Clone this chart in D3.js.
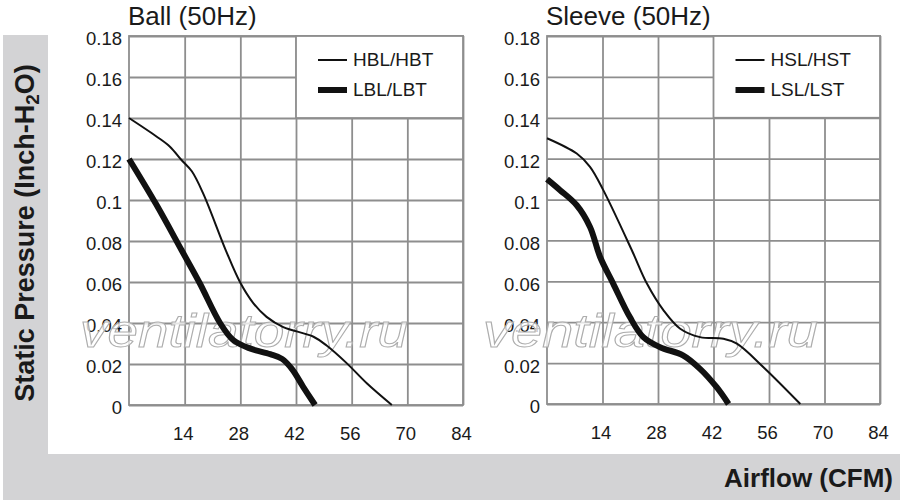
<!DOCTYPE html>
<html>
<head>
<meta charset="utf-8">
<script src="https://cdn.jsdelivr.net/npm/d3@7"></script>
<style>
  body { margin: 0; background: #fff; }
  svg { display: block; font-family: "Liberation Sans", Arial, sans-serif; }
</style>
</head>
<body>
<svg id="chart" width="900" height="502"></svg>
<script>
// tick values
var xTicks = [14, 28, 42, 56, 70, 84];
var yTicks = [0, 0.02, 0.04, 0.06, 0.08, 0.1, 0.12, 0.14, 0.16, 0.18];

// Ball (50Hz) curves, [airflow CFM, pressure inch-H2O]
var hblHbt = [[0, 0.14], [6.9, 0.131], [10.3, 0.126], [13.2, 0.1195], [15.8, 0.114], [18.7, 0.103],
  [24.4, 0.0752], [27.9, 0.06], [31.3, 0.0496], [34.6, 0.043], [38.8, 0.038], [46.4, 0.0333],
  [49.7, 0.029], [54.8, 0.0203], [59.8, 0.0106], [66.1, 0]];
var lblLbt = [[0, 0.12], [6.8, 0.098], [13.2, 0.0756], [17.8, 0.0594], [22.9, 0.04], [26.2, 0.0317],
  [30.4, 0.0276], [35.5, 0.0248], [38.5, 0.0225], [41, 0.0175], [43.8, 0.0089], [46.8, 0]];

// Sleeve (50Hz) curves
var hslHst = [[0, 0.13], [7.5, 0.1225], [10.85, 0.116], [14.2, 0.1046], [21.4, 0.0752], [25.2, 0.0589],
  [29.4, 0.0458], [33.6, 0.0368], [38.6, 0.0327], [44.5, 0.0319], [47.9, 0.0295], [54.6, 0.018],
  [63.9, 0]];
var lslLst = [[0, 0.11], [3.3, 0.1046], [7.5, 0.0972], [10.85, 0.0866], [13.4, 0.0719], [16.7, 0.0589],
  [20.9, 0.0425], [24.3, 0.0327], [28.5, 0.0278], [34.3, 0.0238], [38.6, 0.0172], [42.8, 0.0082],
  [45.8, 0]];

var panels = [
  {title: "Ball (50Hz)", left: 129, right: 463, top: 36, bottom: 405,
   series: [{name: "HBL/HBT", data: hblHbt, w: 2}, {name: "LBL/LBT", data: lblLbt, w: 6}],
   wmLeft: 80, wmWidth: 328},
  {title: "Sleeve (50Hz)", left: 547, right: 880, top: 36, bottom: 404,
   series: [{name: "HSL/HST", data: hslHst, w: 2}, {name: "LSL/LST", data: lslLst, w: 6}],
   wmLeft: 483, wmWidth: 335}
];

var gridColor = "#8e8e8e";
var bandColor = "#d3d3d5";

var svg = d3.select("#chart");

// grey frame bands
svg.append("rect").attr("x", 3).attr("y", 35).attr("width", 45).attr("height", 465).attr("fill", bandColor);
svg.append("rect").attr("x", 3).attr("y", 454).attr("width", 897).attr("height", 46).attr("fill", bandColor);

// axis titles
var yTitle = svg.append("text")
  .attr("transform", "translate(34,233) rotate(-90)")
  .attr("text-anchor", "middle")
  .attr("font-size", 27).attr("font-weight", "bold").attr("fill", "#1a1a1a");
yTitle.append("tspan").text("Static Pressure (Inch-H");
yTitle.append("tspan").attr("font-size", 19).attr("dy", 5).text("2");
yTitle.append("tspan").attr("dy", -5).text("O)");

svg.append("text")
  .attr("x", 893).attr("y", 487)
  .attr("text-anchor", "end")
  .attr("font-size", 26).attr("font-weight", "bold").attr("fill", "#1a1a1a")
  .text("Airflow (CFM)");

panels.forEach(function(p) {
  var x = d3.scaleLinear().domain([0, 84]).range([p.left, p.right]);
  var y = d3.scaleLinear().domain([0, 0.18]).range([p.bottom, p.top]);
  var g = svg.append("g");

  // title
  g.append("text")
    .attr("x", p.left - 1).attr("y", 25)
    .attr("font-size", 26).attr("fill", "#1a1a1a")
    .text(p.title);

  // grid
  var gx = g.append("g")
    .attr("transform", "translate(0," + p.bottom + ")")
    .call(d3.axisBottom(x).tickValues(xTicks).tickSize(-(p.bottom - p.top)).tickFormat(""));
  var gy = g.append("g")
    .attr("transform", "translate(" + p.left + ",0)")
    .call(d3.axisLeft(y).tickValues(yTicks).tickSize(-(p.right - p.left)).tickFormat(""));
  [gx, gy].forEach(function(a) {
    a.select(".domain").remove();
    a.selectAll("line").attr("stroke", gridColor).attr("stroke-width", 1.8);
  });

  // frame
  g.append("rect")
    .attr("x", x(0)).attr("y", y(0.18))
    .attr("width", x(84) - x(0)).attr("height", y(0) - y(0.18))
    .attr("fill", "none").attr("stroke", gridColor).attr("stroke-width", 1.8);

  // legend box covering the grid
  g.append("rect")
    .attr("x", x(42)).attr("y", y(0.18))
    .attr("width", x(84) - x(42)).attr("height", y(0.14) - y(0.18))
    .attr("fill", "#fff").attr("stroke", gridColor).attr("stroke-width", 1.8);

  // tick labels
  var ax = g.append("g")
    .attr("transform", "translate(-2," + p.bottom + ")")
    .call(d3.axisBottom(x).tickValues(xTicks).tickSize(0).tickPadding(22));
  var ay = g.append("g")
    .attr("transform", "translate(" + p.left + ",3)")
    .call(d3.axisLeft(y).tickValues(yTicks).tickSize(0).tickPadding(7)
      .tickFormat(function(d) { return d === 0 ? "0" : d3.format("")(+d.toFixed(2)); }));
  [ax, ay].forEach(function(a) {
    a.select(".domain").remove();
    a.selectAll("text").attr("font-size", 18.5).attr("fill", "#1a1a1a")
      .attr("font-family", "'Liberation Sans', Arial, sans-serif");
  });

  // watermark
  g.append("text")
    .attr("x", p.wmLeft).attr("y", 347)
    .attr("font-size", 46).attr("font-style", "italic")
    .attr("textLength", p.wmWidth).attr("lengthAdjust", "spacingAndGlyphs")
    .attr("fill", "#fff").attr("fill-opacity", 0.75)
    .attr("stroke", "#adadad").attr("stroke-width", 1)
    .text("ventilatorry.ru");

  // curves
  var line = d3.line()
    .x(function(d) { return x(d[0]); })
    .y(function(d) { return y(d[1]); })
    .curve(d3.curveCatmullRom.alpha(0.5));
  p.series.forEach(function(s) {
    g.append("path")
      .datum(s.data)
      .attr("d", line)
      .attr("fill", "none")
      .attr("stroke", "#111")
      .attr("stroke-width", s.w)
      .attr("stroke-linejoin", "round");
  });

  // legend entries
  p.series.forEach(function(s, i) {
    var ly = 60 + i * 30;
    var lx = x(42) + 22;
    g.append("line")
      .attr("x1", lx).attr("x2", lx + 29)
      .attr("y1", ly).attr("y2", ly)
      .attr("stroke", "#111").attr("stroke-width", s.w);
    g.append("text")
      .attr("x", lx + 35).attr("y", ly + 6)
      .attr("font-size", 19).attr("fill", "#1a1a1a")
      .text(s.name);
  });
});
</script>
</body>
</html>
